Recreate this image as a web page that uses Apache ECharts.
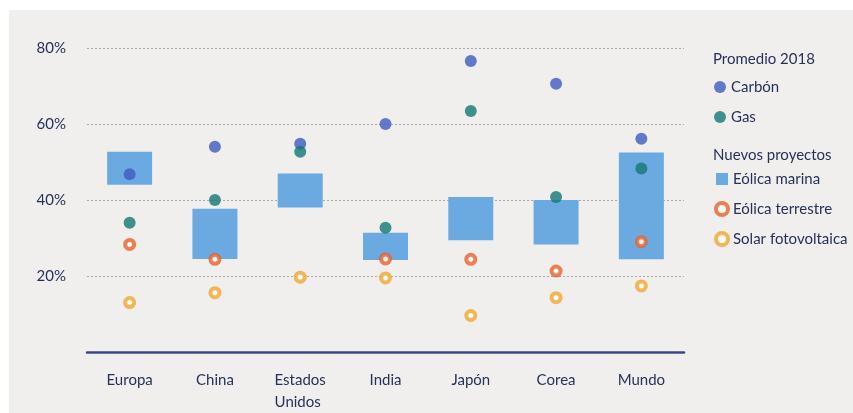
<!DOCTYPE html>
<html>
<head>
<meta charset="utf-8">
<script src="https://cdn.jsdelivr.net/npm/echarts@6/dist/echarts.min.js"></script>
<style>
  html, body { margin: 0; padding: 0; background: #ffffff; }
  #panel { position: absolute; left: 9px; top: 10px; width: 844px; height: 403px; background: #f1efed; }
  #chart { position: absolute; left: 0; top: 0; width: 853px; height: 413px; }
</style>
</head>
<body>
<div id="panel"></div>
<div id="chart"></div>
<script>
// Regions / markets
const categories = ['Europa', 'China', 'Estados\nUnidos', 'India', 'Japón', 'Corea', 'Mundo'];

// Promedio 2018 (%)
const carbon = [46.8, 54, 54.8, 60, 76.6, 70.6, 56.1];
const gas = [34, 40, 52.7, 32.7, 63.4, 40.8, 48.3];

// Nuevos proyectos (%): offshore wind range low–high
const eolicaMarinaMin = [44, 24.5, 38, 24.2, 29.4, 28.3, 24.4];
const eolicaMarinaMax = [52.7, 37.7, 47, 31.4, 40.8, 40, 52.5];
const eolicaTerrestre = [28.3, 24.4, null, 24.5, 24.4, 21.3, 29];
const solarFV = [13, 15.6, 19.7, 19.5, 9.6, 14.3, 17.4];

// Y axis ticks
const yTicks = [20, 40, 60, 80];

const navy = '#26315c';
const font = 'Lato, "Open Sans", sans-serif';
const blue = '#3f5bc0';
const teal = '#137874';
const barBlue = '#6aaae0';
const orange = '#e8622b';
const yellow = '#f2a630';

const chart = echarts.init(document.getElementById('chart'), null, { renderer: 'canvas' });

const ringStyle = (c) => ({ color: '#ffffff', borderColor: c, borderWidth: 4 });
const legendText = { fontFamily: font, fontSize: 15, color: navy, lineHeight: 16 };

chart.setOption({
  animation: false,
  textStyle: { fontFamily: font },
  title: [
    { text: 'Promedio 2018', left: 708, top: 47, textStyle: { fontFamily: font, fontSize: 15, fontWeight: 'normal', color: navy } },
    { text: 'Nuevos proyectos', left: 708, top: 143, textStyle: { fontFamily: font, fontSize: 15, fontWeight: 'normal', color: navy } }
  ],
  legend: [
    {
      data: ['Carbón', 'Gas'],
      orient: 'vertical', left: 709, top: 74, itemGap: 14,
      itemWidth: 12, itemHeight: 12,
      textStyle: legendText,
      selectedMode: false
    },
    {
      data: [
        { name: 'Eólica marina', icon: 'rect', itemStyle: { color: barBlue } },
        { name: 'Eólica terrestre', itemStyle: ringStyle(orange) },
        { name: 'Solar fotovoltaica', itemStyle: ringStyle(yellow) }
      ],
      orient: 'vertical', left: 709, top: 166, itemGap: 14,
      itemWidth: 12, itemHeight: 12,
      textStyle: legendText,
      selectedMode: false
    }
  ],
  grid: { left: 87, right: 169, top: 48, bottom: 58 },
  xAxis: {
    type: 'category',
    data: categories,
    axisLine: { lineStyle: { color: '#3b4888', width: 2.5 } },
    axisTick: { show: false },
    axisLabel: { interval: 0, color: navy, fontSize: 15, fontFamily: font, margin: 17, lineHeight: 22,
      formatter: (v) => v.replace('Estados\nUnidos', '{l|Estados}\n{l|Unidos}'),
      rich: { l: { fontSize: 15, fontFamily: font, color: navy, align: 'left', lineHeight: 22 } } }
  },
  yAxis: {
    type: 'value',
    min: 0, max: 80, interval: 20,
    axisLine: { show: false },
    axisTick: { show: false },
    axisLabel: {
      color: navy, fontSize: 15, fontFamily: font, margin: 21,
      formatter: (v) => (yTicks.indexOf(v) >= 0 ? v + '%' : '')
    },
    splitLine: {
      lineStyle: { color: '#a9a9a9', type: [2, 2], width: 1 },
      showMinLine: false
    }
  },
  series: [
    {
      name: 'base', type: 'bar', stack: 'marina', barWidth: 45,
      data: eolicaMarinaMin,
      itemStyle: { color: 'rgba(0,0,0,0)' },
      silent: true
    },
    {
      name: 'Eólica marina', type: 'bar', stack: 'marina', barWidth: 45,
      data: eolicaMarinaMax.map((v, i) => +(v - eolicaMarinaMin[i]).toFixed(2)),
      itemStyle: { color: barBlue }
    },
    {
      name: 'Carbón', type: 'scatter', symbol: 'circle', symbolSize: 12,
      data: carbon, itemStyle: { color: blue }, z: 3
    },
    {
      name: 'Gas', type: 'scatter', symbol: 'circle', symbolSize: 12,
      data: gas, itemStyle: { color: teal }, z: 3
    },
    {
      name: 'Eólica terrestre', type: 'scatter', symbol: 'circle', symbolSize: 9,
      data: eolicaTerrestre, itemStyle: ringStyle(orange), z: 4
    },
    {
      name: 'Solar fotovoltaica', type: 'scatter', symbol: 'circle', symbolSize: 9,
      data: solarFV, itemStyle: ringStyle(yellow), z: 4
    }
  ]
});
</script>
</body>
</html>
